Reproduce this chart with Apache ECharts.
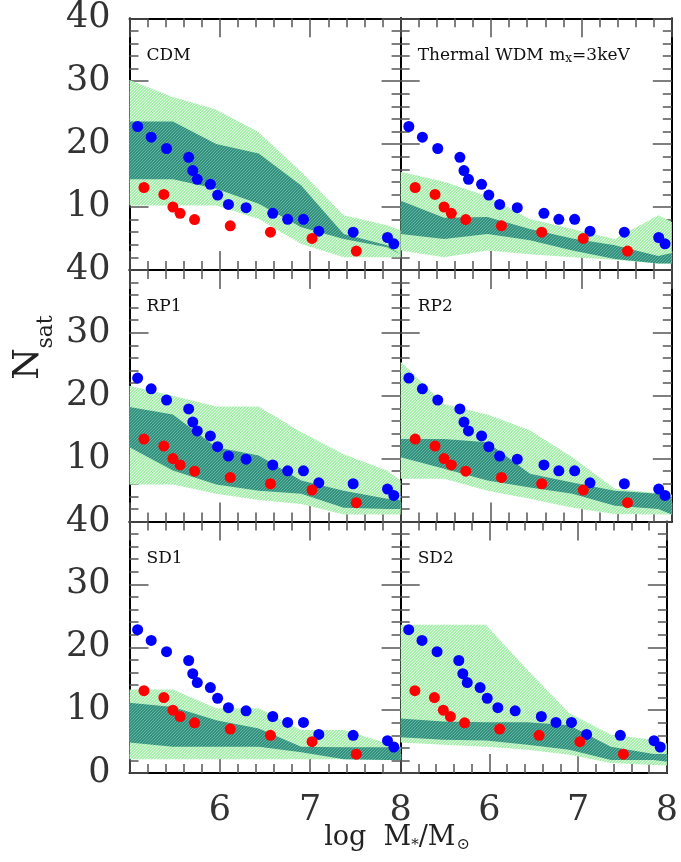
<!DOCTYPE html>
<html><head><meta charset="utf-8">
<script src="https://cdn.jsdelivr.net/npm/echarts@6/dist/echarts.min.js"></script>
<style>html,body{margin:0;padding:0;background:#fff}#c{width:681px;height:862px}</style>
</head><body><div id="c"></div>
<script>
// ---------- data ----------
const xTicks = [6, 7, 8];
const yTicks = [0, 10, 20, 30, 40];
const panelNames = ['CDM', 'Thermal WDM m{sub|x}=3keV', 'RP1', 'RP2', 'SD1', 'SD2'];
const xTitle = 'log  M{sub|*}/M{sub2|\u2299}';

// observed satellites (same in every panel)
const blueX = [5.09, 5.24, 5.41, 5.655, 5.70, 5.75, 5.895, 5.975, 6.095, 6.29, 6.585, 6.75, 6.925, 7.095, 7.475, 7.855, 7.925];
const blueY = [22.8, 21.1, 19.3, 17.9, 15.8, 14.4, 13.6, 11.9, 10.4, 9.9, 9.0, 8.05, 8.05, 6.15, 6.0, 5.15, 4.15];
const redX = [5.16, 5.38, 5.48, 5.56, 5.72, 6.115, 6.56, 7.02, 7.51];
const redY = [13.1, 12.0, 10.0, 9.0, 8.0, 7.0, 6.0, 5.0, 3.0];

// model bands (x nodes shared)
const bandX = [5.0, 5.48, 5.96, 6.43, 6.9, 7.37, 7.85, 8.0];

const cdmOuterHi = [30.2, 27.5, 25.5, 21.9, 15.6, 8.7, 7.1, 6.3];
const cdmOuterLo = [10.25, 10.25, 10.25, 8.1, 4.1, 2.0, 2.0, 2.0];
const cdmInnerHi = [23.6, 23.6, 20.0, 18.5, 13.4, 5.7, 3.9, 2.5];
const cdmInnerLo = [14.4, 14.4, 12.9, 10.5, 6.8, 4.9, 3.6, 2.5];

const wdmOuterHi = [15.6, 14.0, 11.7, 8.1, 6.5, 4.9, 8.7, 7.6];
const wdmOuterLo = [3.1, 2.0, 3.1, 2.5, 2.0, 1.6, 1.0, 1.0];
const wdmInnerHi = [11.0, 8.3, 8.4, 6.5, 5.0, 3.9, 2.2, 2.7];
const wdmInnerLo = [5.7, 4.9, 5.7, 4.7, 3.1, 1.75, 1.0, 1.0];

const rp1OuterHi = [21.6, 20.0, 18.3, 18.3, 14.2, 10.7, 8.1, 6.5];
const rp1OuterLo = [5.9, 5.9, 4.4, 3.4, 2.8, 1.1, 1.1, 1.1];
const rp1InnerHi = [18.2, 17.0, 11.8, 10.5, 6.5, 4.9, 3.6, 3.4];
const rp1InnerLo = [11.8, 8.1, 5.9, 4.9, 4.4, 2.2, 2.0, 2.0];

const rp2OuterHi = [25.4, 18.7, 17.0, 14.5, 10.2, 5.2, 4.5, 4.3];
const rp2OuterLo = [6.8, 6.8, 4.9, 3.6, 2.2, 1.2, 1.1, 1.1];
const rp2InnerHi = [13.1, 13.1, 12.6, 7.6, 6.2, 4.9, 4.4, 3.9];
const rp2InnerLo = [10.2, 8.4, 6.5, 5.4, 4.4, 2.5, 2.0, 1.1];

const sd1OuterHi = [13.3, 13.3, 10.3, 10.3, 6.85, 6.85, 4.75, 4.2];
const sd1OuterLo = [2.2, 2.2, 2.2, 2.2, 2.2, 2.2, 2.1, 2.1];
const sd1InnerHi = [11.2, 10.5, 8.4, 7.1, 4.2, 4.1, 4.1, 4.1];
const sd1InnerLo = [4.85, 4.2, 4.2, 4.2, 3.3, 2.2, 2.1, 2.1];

const sd2OuterHi = [23.6, 23.6, 23.6, 16.4, 9.5, 6.1, 5.3, 4.7];
const sd2OuterLo = [4.85, 4.5, 4.2, 3.7, 2.9, 1.6, 1.3, 1.2];
const sd2InnerHi = [8.7, 8.2, 8.1, 8.1, 7.6, 4.2, 3.05, 3.05];
const sd2InnerLo = [5.7, 5.3, 5.2, 4.5, 3.7, 2.1, 2.1, 1.8];

const outerHi = [cdmOuterHi, wdmOuterHi, rp1OuterHi, rp2OuterHi, sd1OuterHi, sd2OuterHi];
const outerLo = [cdmOuterLo, wdmOuterLo, rp1OuterLo, rp2OuterLo, sd1OuterLo, sd2OuterLo];
const innerHi = [cdmInnerHi, wdmInnerHi, rp1InnerHi, rp2InnerHi, sd1InnerHi, sd2InnerHi];
const innerLo = [cdmInnerLo, wdmInnerLo, rp1InnerLo, rp2InnerLo, sd1InnerLo, sd2InnerLo];

// ---------- styling / layout ----------
function hatch(base, line, step) {
  const c = document.createElement('canvas');
  c.width = c.height = step;
  const g = c.getContext('2d');
  g.fillStyle = base; g.fillRect(0, 0, step, step);
  g.fillStyle = line;
  for (let i = 0; i < step; i++) g.fillRect(i, step - 1 - i, 1, 1);
  return c;
}
const lightFill = { image: hatch('#a4f0ab', '#e4fae6', 3), repeat: 'repeat' };
const darkFill = { image: hatch('#34907e', '#62b6a0', 3), repeat: 'repeat' };

const lefts = [129.5, 400.7];
const tops = [18.3, 269.9, 521.5];
const gw = 271.1, gh = 251.6;
const serif = 'DejaVu Serif';
const tickCol = '#555';

const grid = [], xAxis = [], yAxis = [], series = [], graphic = [];

function bandSeries(gi, hi, lo, fill, z) {
  return {
    type: 'custom', xAxisIndex: gi * 2, yAxisIndex: gi * 2, z: z, silent: true,
    data: [0],
    renderItem: function (params, api) {
      const pts = [];
      for (let i = 0; i < bandX.length; i++) pts.push(api.coord([bandX[i], hi[i]]));
      for (let i = bandX.length - 1; i >= 0; i--) pts.push(api.coord([bandX[i], lo[i]]));
      return { type: 'polygon', shape: { points: pts }, style: { fill: fill, stroke: null } };
    }
  };
}

for (let r = 0; r < 3; r++) {
  for (let c = 0; c < 2; c++) {
    const gi = r * 2 + c;
    grid.push({ left: lefts[c], top: tops[r], width: gw, height: gh, show: false });
    const common = {
      gridIndex: gi, type: 'value', min: 5, max: 8, interval: 1,
      axisLine: { show: true, onZero: false, lineStyle: { color: '#000', width: 2 } },
      axisTick: { show: true, inside: true, length: 19, lineStyle: { color: tickCol, width: 1.5 } },
      minorTick: { show: true, splitNumber: 5, length: 9, lineStyle: { color: tickCol, width: 1.5 } },
      splitLine: { show: false }, minorSplitLine: { show: false }
    };
    xAxis.push(Object.assign({}, common, {
      position: 'bottom',
      axisLabel: {
        show: r === 2, margin: 20, fontFamily: serif, fontSize: 35, color: '#333',
        formatter: v => (xTicks.indexOf(v) >= 0 ? String(v) : '')
      }
    }));
    xAxis.push(Object.assign({}, common, { position: 'top', axisLabel: { show: false } }));
    const ycommon = Object.assign({}, common, { min: 0, max: 40, interval: 10 });
    yAxis.push(Object.assign({}, ycommon, {
      position: 'left',
      axisLabel: {
        show: c === 0, margin: 19, fontFamily: serif, fontSize: 35, color: '#333',
        showMinLabel: true, showMaxLabel: true,
        formatter: v => ((v === 0 && r < 2) ? '' : (yTicks.indexOf(v) >= 0 ? String(v) : ''))
      }
    }));
    yAxis.push(Object.assign({}, ycommon, { position: 'right', axisLabel: { show: false } }));

    series.push(bandSeries(gi, outerHi[gi], outerLo[gi], lightFill, 1));
    series.push(bandSeries(gi, innerHi[gi], innerLo[gi], darkFill, 2));
    series.push({
      type: 'scatter', xAxisIndex: gi * 2, yAxisIndex: gi * 2, z: 3, symbolSize: 11,
      itemStyle: { color: '#0000ff', opacity: 1 }, silent: true,
      data: blueX.map((x, i) => [x, blueY[i]])
    });
    series.push({
      type: 'scatter', xAxisIndex: gi * 2, yAxisIndex: gi * 2, z: 4, symbolSize: 11,
      itemStyle: { color: '#ff0000', opacity: 1 }, silent: true,
      data: redX.map((x, i) => [x, redY[i]])
    });

    graphic.push({
      type: 'text', x: lefts[c] + 17, y: tops[r] + 27, z: 10,
      style: {
        text: panelNames[gi], fontFamily: serif, fontSize: 17, fill: '#111',
        align: 'left', verticalAlign: 'top', lineHeight: 20,
        rich: { sub: { fontFamily: serif, fontSize: 12, fill: '#111', verticalAlign: 'bottom', lineHeight: 12, padding: [8, 0, 0, 0] } }
      }
    });
  }
}

// axis titles
graphic.push({ type: 'text', x: 29, y: 364, rotation: Math.PI / 2, z: 10,
  style: { text: 'N', fontFamily: serif, fontSize: 36, fill: '#222', align: 'center', verticalAlign: 'middle' } });
graphic.push({ type: 'text', x: 46, y: 332, rotation: Math.PI / 2, z: 10,
  style: { text: 'sat', fontFamily: serif, fontSize: 22, fill: '#222', align: 'center', verticalAlign: 'middle' } });

graphic.push({ type: 'text', x: 397, y: 838, z: 10,
  style: {
    text: xTitle, fontFamily: serif, fontSize: 27, fill: '#222', align: 'center', verticalAlign: 'middle', lineHeight: 30,
    rich: {
      sub: { fontFamily: serif, fontSize: 15, fill: '#222', verticalAlign: 'bottom', lineHeight: 15, padding: [9, 0, 0, 0] },
      sub2: { fontFamily: serif, fontSize: 16, fill: '#222', verticalAlign: 'bottom', lineHeight: 16, padding: [14, 0, 0, 1] }
    }
  } });

const chart = echarts.init(document.getElementById('c'), null, { renderer: 'canvas' });
chart.setOption({
  animation: false, backgroundColor: '#fff',
  grid: grid, xAxis: xAxis, yAxis: yAxis, series: series, graphic: graphic
});
</script></body></html>
